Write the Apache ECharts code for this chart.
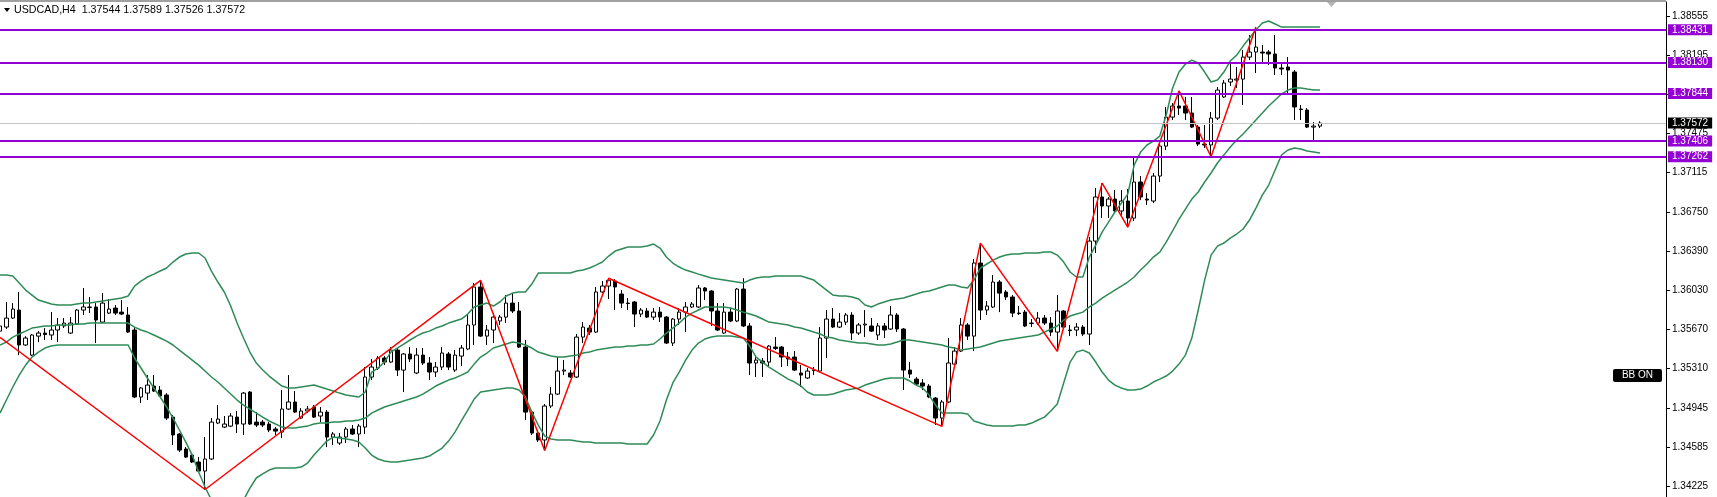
<!DOCTYPE html>
<html><head><meta charset="utf-8">
<script src="https://cdn.jsdelivr.net/npm/echarts@6/dist/echarts.min.js"></script>
<style>html,body{margin:0;padding:0;background:#fff;}#c{width:1717px;height:497px;}</style>
</head><body><div id="c"></div>
<script>
const symbolName = 'USDCAD,H4';
const opens = [
1.35656,1.35693,1.35776,1.35850,1.35528,1.35435,1.35610,1.35638,1.35620,1.35666,
1.35703,1.35638,1.35721,1.35850,1.35873,1.35878,1.35739,1.35822,1.35868,1.35831,
1.35804,1.35666,1.35049,1.35085,1.35150,1.35113,1.35067,1.34864,1.34708,1.34570,
1.34514,1.34450,1.34367,1.34478,1.34809,1.34772,1.34781,1.34864,1.34800,1.35095,
1.34818,1.34818,1.34800,1.34754,1.34726,1.34938,1.35003,1.34855,1.34920,1.34957,
1.34874,1.34910,1.34680,1.34625,1.34680,1.34754,1.34708,1.34772,1.35233,1.35316,
1.35408,1.35371,1.35481,1.35297,1.35445,1.35270,1.35435,1.35362,1.35279,1.35325,
1.35445,1.35297,1.35426,1.35491,1.35712,1.36062,1.35610,1.35666,1.35749,1.35785,
1.35914,1.35841,1.35509,1.34910,1.34717,1.34653,1.34966,1.35076,1.35288,1.35270,
1.35233,1.35601,1.35684,1.35647,1.36016,1.36071,1.36117,1.35997,1.35914,1.35924,
1.35813,1.35841,1.35785,1.35831,1.35785,1.35546,1.35767,1.35831,1.35878,1.35878,
1.36053,1.36025,1.35841,1.35638,1.35831,1.35749,1.36043,1.35703,1.35362,1.35380,
1.35371,1.35509,1.35509,1.35417,1.35417,1.35270,1.35224,1.35292,1.35288,1.35592,
1.35767,1.35693,1.35739,1.35804,1.35638,1.35712,1.35703,1.35620,1.35703,1.35675,
1.35804,1.35675,1.35297,1.35214,1.35178,1.35150,1.35039,1.34855,1.35003,1.35352,
1.35472,1.35712,1.35610,1.36283,1.35850,1.35878,1.36108,1.36016,1.35970,1.35822,
1.35831,1.35730,1.35730,1.35776,1.35730,1.35647,1.35841,1.35666,1.35666,1.35693,
1.35629,1.36485,1.36891,1.36808,1.36872,1.36762,1.36854,1.36697,1.37029,1.36872,
1.36854,1.37084,1.37360,1.37627,1.37729,1.37729,1.37664,1.37535,1.37379,1.37370,
1.37618,1.37812,1.37950,1.37968,1.37977,1.38180,1.38226,1.38226,1.38226,1.38208,
1.38079,1.38088,1.38042,1.37701,1.37692,1.37535,1.37544];
const highs = [
1.35739,1.35924,1.35914,1.36016,1.35610,1.35629,1.35656,1.35684,1.35831,1.35776,
1.35776,1.35785,1.35859,1.36053,1.35970,1.35914,1.36006,1.35951,1.35896,1.35942,
1.35878,1.35693,1.35141,1.35251,1.35251,1.35150,1.35085,1.34883,1.34717,1.34588,
1.34533,1.34496,1.34680,1.34855,1.34975,1.34874,1.34901,1.34920,1.35095,1.35104,
1.34910,1.34837,1.34818,1.34772,1.35113,1.35251,1.35104,1.34947,1.34966,1.34975,
1.34957,1.34929,1.34726,1.34717,1.34772,1.34791,1.34800,1.35325,1.35399,1.35426,
1.35426,1.35509,1.35500,1.35454,1.35509,1.35500,1.35500,1.35417,1.35371,1.35509,
1.35463,1.35481,1.35528,1.35804,1.36099,1.36124,1.35712,1.35822,1.35804,1.35988,
1.36006,1.35924,1.35574,1.34929,1.34745,1.34984,1.35141,1.35417,1.35389,1.35297,
1.35629,1.35739,1.35712,1.36062,1.36117,1.36143,1.36134,1.36034,1.35960,1.35933,
1.35868,1.35868,1.35868,1.35878,1.35795,1.35776,1.35868,1.35924,1.35924,1.36080,
1.36062,1.36034,1.35914,1.35914,1.35868,1.36053,1.36143,1.35730,1.35435,1.35408,
1.35528,1.35601,1.35518,1.35463,1.35472,1.35343,1.35316,1.35325,1.35693,1.35850,
1.35868,1.35822,1.35822,1.35831,1.35730,1.35850,1.35776,1.35730,1.35730,1.35887,
1.35822,1.35684,1.35371,1.35233,1.35214,1.35168,1.35049,1.35021,1.35592,1.35509,
1.35776,1.35730,1.36320,1.36466,1.35933,1.36172,1.36126,1.36034,1.35988,1.35887,
1.35850,1.35767,1.35831,1.35804,1.35785,1.35988,1.35850,1.35712,1.35730,1.35712,
1.36522,1.36974,1.37019,1.36891,1.36955,1.36955,1.36964,1.37259,1.37084,1.36927,
1.37112,1.37416,1.37720,1.37756,1.37868,1.37812,1.37812,1.37554,1.37554,1.37674,
1.37904,1.37968,1.38130,1.38088,1.38245,1.38383,1.38457,1.38291,1.38245,1.38383,
1.38134,1.38180,1.38060,1.37738,1.37710,1.37581,1.37589];
const lows = [
1.35620,1.35675,1.35767,1.35435,1.35518,1.35426,1.35555,1.35574,1.35574,1.35555,
1.35684,1.35629,1.35712,1.35804,1.35822,1.35546,1.35730,1.35813,1.35804,1.35804,
1.35638,1.35039,1.34993,1.35021,1.35095,1.35049,1.34837,1.34607,1.34542,1.34487,
1.34441,1.34358,1.34197,1.34468,1.34800,1.34763,1.34772,1.34717,1.34699,1.34791,
1.34772,1.34772,1.34726,1.34699,1.34671,1.34929,1.34901,1.34846,1.34901,1.34855,
1.34818,1.34588,1.34607,1.34607,1.34625,1.34699,1.34588,1.34708,1.35205,1.35297,
1.35343,1.35362,1.35242,1.35095,1.35371,1.35260,1.35343,1.35205,1.35233,1.35297,
1.35297,1.35279,1.35334,1.35481,1.35528,1.35601,1.35528,1.35546,1.35712,1.35730,
1.35822,1.35500,1.34837,1.34699,1.34634,1.34557,1.34947,1.35067,1.35251,1.35224,
1.35224,1.35546,1.35620,1.35638,1.36006,1.35951,1.35850,1.35868,1.35850,1.35693,
1.35785,1.35776,1.35758,1.35739,1.35537,1.35518,1.35712,1.35647,1.35868,1.35868,
1.35942,1.35703,1.35656,1.35629,1.35739,1.35739,1.35693,1.35251,1.35233,1.35233,
1.35334,1.35481,1.35325,1.35334,1.35288,1.35141,1.35214,1.35251,1.35279,1.35408,
1.35684,1.35684,1.35712,1.35574,1.35620,1.35601,1.35647,1.35574,1.35592,1.35666,
1.35647,1.35113,1.35224,1.35150,1.35113,1.35039,1.34791,1.34778,1.34993,1.35343,
1.35463,1.35574,1.35472,1.35758,1.35804,1.35868,1.35831,1.35942,1.35785,1.35804,
1.35693,1.35693,1.35712,1.35712,1.35610,1.35470,1.35675,1.35610,1.35610,1.35610,
1.35528,1.36375,1.36697,1.36697,1.36753,1.36725,1.36613,1.36670,1.36863,1.36817,
1.36835,1.37029,1.37324,1.37600,1.37646,1.37600,1.37526,1.37360,1.37342,1.37262,
1.37600,1.37802,1.37913,1.37895,1.37738,1.38152,1.38033,1.38134,1.38106,1.38014,
1.38014,1.37830,1.37600,1.37600,1.37526,1.37406,1.37526];
const closes = [
1.35703,1.35776,1.35859,1.35528,1.35592,1.35620,1.35638,1.35624,1.35666,1.35712,
1.35730,1.35730,1.35850,1.35878,1.35878,1.35758,1.35914,1.35859,1.35822,1.35813,
1.35647,1.35049,1.35132,1.35159,1.35104,1.35058,1.34855,1.34699,1.34560,1.34496,
1.34450,1.34367,1.34478,1.34818,1.34846,1.34800,1.34874,1.34800,1.35085,1.34800,
1.34791,1.34791,1.34745,1.34735,1.34938,1.35003,1.34910,1.34920,1.34938,1.34864,
1.34910,1.34680,1.34708,1.34680,1.34754,1.34708,1.34781,1.35233,1.35325,1.35408,
1.35371,1.35481,1.35297,1.35445,1.35399,1.35435,1.35362,1.35279,1.35325,1.35454,
1.35325,1.35435,1.35500,1.35712,1.36062,1.35610,1.35666,1.35785,1.35785,1.35914,
1.35841,1.35509,1.34910,1.34717,1.34653,1.34966,1.35076,1.35288,1.35297,1.35233,
1.35601,1.35693,1.35647,1.36016,1.36071,1.36124,1.36062,1.35914,1.35910,1.35813,
1.35850,1.35785,1.35831,1.35785,1.35546,1.35767,1.35831,1.35878,1.35905,1.36053,
1.36025,1.35841,1.35666,1.35831,1.35749,1.36043,1.35703,1.35362,1.35389,1.35362,
1.35518,1.35495,1.35417,1.35399,1.35297,1.35251,1.35288,1.35297,1.35592,1.35767,
1.35693,1.35739,1.35804,1.35638,1.35712,1.35721,1.35656,1.35703,1.35666,1.35804,
1.35675,1.35297,1.35260,1.35168,1.35150,1.35049,1.34855,1.35003,1.35362,1.35472,
1.35712,1.35610,1.36283,1.35850,1.35887,1.36108,1.36006,1.35970,1.35822,1.35817,
1.35703,1.35726,1.35776,1.35730,1.35647,1.35841,1.35693,1.35661,1.35693,1.35629,
1.36485,1.36891,1.36808,1.36872,1.36762,1.36854,1.36697,1.37029,1.36891,1.36863,
1.37084,1.37360,1.37627,1.37729,1.37710,1.37664,1.37535,1.37379,1.37370,1.37618,
1.37876,1.37941,1.37977,1.37977,1.38180,1.38226,1.38272,1.38217,1.38208,1.38079,
1.38070,1.38060,1.37720,1.37697,1.37535,1.37544,1.37572];
const bbUpper = [
1.36172,1.36172,1.36163,1.36099,1.36034,1.35988,1.35942,1.35924,1.35905,1.35896,
1.35896,1.35896,1.35905,1.35914,1.35914,1.35924,1.35933,1.35942,1.35951,1.35960,
1.35979,1.36071,1.36117,1.36154,1.36181,1.36209,1.36237,1.36292,1.36338,1.36366,
1.36375,1.36375,1.36329,1.36209,1.36108,1.36016,1.35887,1.35730,1.35592,1.35463,
1.35362,1.35297,1.35242,1.35196,1.35150,1.35132,1.35132,1.35141,1.35150,1.35159,
1.35141,1.35122,1.35104,1.35085,1.35067,1.35058,1.35049,1.35095,1.35279,1.35316,
1.35371,1.35463,1.35500,1.35537,1.35574,1.35610,1.35638,1.35656,1.35684,1.35703,
1.35730,1.35749,1.35767,1.35813,1.35878,1.35896,1.35914,1.35887,1.35924,1.35979,
1.36006,1.36016,1.36016,1.36089,1.36191,1.36191,1.36191,1.36191,1.36191,1.36191,
1.36209,1.36218,1.36237,1.36264,1.36292,1.36347,1.36393,1.36412,1.36430,1.36430,
1.36430,1.36439,1.36458,1.36421,1.36338,1.36283,1.36246,1.36218,1.36200,1.36181,
1.36163,1.36145,1.36135,1.36126,1.36117,1.36108,1.36099,1.36126,1.36145,1.36154,
1.36154,1.36163,1.36163,1.36163,1.36163,1.36163,1.36145,1.36126,1.36080,1.36034,
1.35988,1.35979,1.35979,1.35970,1.35951,1.35896,1.35878,1.35905,1.35924,1.35942,
1.35951,1.35960,1.35979,1.35997,1.36016,1.36025,1.36043,1.36062,1.36080,1.36080,
1.36062,1.36053,1.36126,1.36237,1.36274,1.36310,1.36338,1.36356,1.36366,1.36366,
1.36375,1.36375,1.36375,1.36384,1.36384,1.36356,1.36292,1.36200,1.36154,1.36154,
1.36338,1.36448,1.36568,1.36660,1.36753,1.36835,1.36918,1.37185,1.37305,1.37370,
1.37406,1.37452,1.37646,1.37895,1.38042,1.38116,1.38152,1.38125,1.38042,1.37950,
1.37968,1.38042,1.38143,1.38198,1.38281,1.38355,1.38429,1.38493,1.38512,1.38484,
1.38456,1.38456,1.38456,1.38456,1.38456,1.38456,1.38456];
const bbMiddle = [
1.35528,1.35555,1.35601,1.35629,1.35656,1.35684,1.35693,1.35703,1.35703,1.35712,
1.35712,1.35712,1.35721,1.35721,1.35730,1.35730,1.35730,1.35730,1.35730,1.35730,
1.35730,1.35693,1.35666,1.35647,1.35620,1.35592,1.35564,1.35528,1.35481,1.35435,
1.35389,1.35343,1.35288,1.35233,1.35187,1.35132,1.35076,1.35021,1.34975,1.34938,
1.34901,1.34864,1.34828,1.34800,1.34772,1.34763,1.34763,1.34772,1.34781,1.34800,
1.34809,1.34809,1.34818,1.34818,1.34828,1.34828,1.34837,1.34855,1.34901,1.34929,
1.34957,1.34975,1.34993,1.35012,1.35030,1.35049,1.35076,1.35113,1.35150,1.35178,
1.35205,1.35224,1.35251,1.35279,1.35352,1.35417,1.35454,1.35500,1.35518,1.35537,
1.35555,1.35546,1.35528,1.35500,1.35463,1.35445,1.35426,1.35417,1.35417,1.35426,
1.35435,1.35454,1.35463,1.35481,1.35491,1.35500,1.35509,1.35509,1.35518,1.35518,
1.35528,1.35528,1.35537,1.35583,1.35638,1.35684,1.35730,1.35785,1.35822,1.35850,
1.35878,1.35878,1.35878,1.35878,1.35868,1.35850,1.35831,1.35813,1.35795,1.35767,
1.35739,1.35730,1.35721,1.35712,1.35693,1.35684,1.35666,1.35647,1.35629,1.35601,
1.35592,1.35574,1.35564,1.35555,1.35546,1.35546,1.35537,1.35528,1.35528,1.35537,
1.35555,1.35574,1.35574,1.35564,1.35555,1.35546,1.35537,1.35528,1.35509,1.35500,
1.35481,1.35491,1.35500,1.35509,1.35528,1.35546,1.35564,1.35574,1.35583,1.35592,
1.35601,1.35610,1.35620,1.35647,1.35675,1.35703,1.35758,1.35795,1.35813,1.35831,
1.35878,1.35914,1.35960,1.35997,1.36034,1.36071,1.36108,1.36154,1.36218,1.36274,
1.36338,1.36384,1.36476,1.36578,1.36688,1.36780,1.36872,1.36937,1.37029,1.37112,
1.37204,1.37277,1.37351,1.37416,1.37471,1.37535,1.37600,1.37664,1.37729,1.37784,
1.37839,1.37876,1.37895,1.37895,1.37885,1.37876,1.37876];
const bbLower = [
1.34901,1.35021,1.35141,1.35251,1.35343,1.35417,1.35463,1.35500,1.35518,1.35528,
1.35528,1.35528,1.35528,1.35528,1.35528,1.35528,1.35528,1.35528,1.35528,1.35528,
1.35528,1.35408,1.35316,1.35224,1.35132,1.35049,1.34957,1.34855,1.34745,1.34634,
1.34514,1.34358,1.34220,1.34100,1.34026,1.33990,1.33990,1.34026,1.34100,1.34210,
1.34303,1.34340,1.34376,1.34395,1.34395,1.34395,1.34395,1.34404,1.34441,1.34514,
1.34579,1.34643,1.34680,1.34671,1.34662,1.34653,1.34634,1.34579,1.34514,1.34478,
1.34459,1.34450,1.34450,1.34459,1.34468,1.34478,1.34487,1.34505,1.34542,1.34579,
1.34643,1.34726,1.34828,1.34929,1.35030,1.35095,1.35104,1.35113,1.35122,1.35132,
1.35132,1.35113,1.35049,1.34910,1.34791,1.34690,1.34662,1.34653,1.34653,1.34653,
1.34643,1.34634,1.34634,1.34625,1.34625,1.34625,1.34625,1.34625,1.34616,1.34616,
1.34616,1.34616,1.34699,1.34828,1.35021,1.35178,1.35279,1.35389,1.35481,1.35546,
1.35583,1.35601,1.35610,1.35610,1.35610,1.35601,1.35592,1.35518,1.35417,1.35371,
1.35325,1.35288,1.35251,1.35214,1.35187,1.35150,1.35095,1.35067,1.35067,1.35067,
1.35076,1.35095,1.35113,1.35122,1.35132,1.35159,1.35178,1.35196,1.35214,1.35224,
1.35224,1.35224,1.35196,1.35159,1.35132,1.35067,1.34975,1.34901,1.34901,1.34901,
1.34901,1.34892,1.34828,1.34809,1.34791,1.34781,1.34781,1.34781,1.34781,1.34791,
1.34791,1.34809,1.34837,1.34864,1.34920,1.34984,1.35178,1.35371,1.35463,1.35481,
1.35454,1.35371,1.35279,1.35205,1.35159,1.35132,1.35113,1.35113,1.35122,1.35150,
1.35187,1.35214,1.35242,1.35288,1.35352,1.35435,1.35592,1.35850,1.36126,1.36356,
1.36439,1.36467,1.36513,1.36550,1.36596,1.36679,1.36789,1.36909,1.37001,1.37139,
1.37278,1.37324,1.37342,1.37333,1.37314,1.37305,1.37296];
const zigzagIndex = [0, 32, 75, 85, 95, 147, 153, 165, 172, 176, 184, 189, 196];
const zigzagValue = [1.35599, 1.34197, 1.36124, 1.34557, 1.36143, 1.34778, 1.36466, 1.35470, 1.37019, 1.36613, 1.37868, 1.37262, 1.38457];
const levelPrices = [1.38431, 1.38130, 1.37844, 1.37406, 1.37262];
const currentPrice = 1.37572;
const yTickValues = [1.38555, 1.38195, 1.37835, 1.37475, 1.37115, 1.36750, 1.36390, 1.36030, 1.35670, 1.35310, 1.34945, 1.34585, 1.34225];
const priceMin = 1.34128, priceMax = 1.38687;
const slotCount = 261;

const N = opens.length;
const categories = Array.from({length: slotCount}, (_, i) => String(i));
const candleData = opens.map((o, i) => [o, closes[i], lows[i], highs[i]]);
const zigzagData = new Array(N).fill(null);
zigzagIndex.forEach((k, j) => { zigzagData[k] = zigzagValue[j]; });
const fmt = v => Number(v).toFixed(5);
const FONT = 'Liberation Sans';
const titleText = symbolName + '  ' + [opens[N-1], highs[N-1], lows[N-1], closes[N-1]].map(fmt).join(' ');

const chart = echarts.init(document.getElementById('c'), null, {renderer: 'canvas'});
const bandStyle = {color: '#2E8B57', width: 1.5};
chart.setOption({
  animation: false,
  backgroundColor: '#ffffff',
  grid: {left: 0, right: 51, top: 2, bottom: 0},
  xAxis: {type: 'category', data: categories, boundaryGap: false, show: false},
  yAxis: {
    type: 'value', position: 'right', min: priceMin, max: priceMax, scale: true,
    axisLine: {show: true, lineStyle: {color: '#000', width: 1}},
    axisTick: {show: true, inside: false, length: 4, lineStyle: {color: '#000'}, customValues: yTickValues},
    axisLabel: {show: true, customValues: yTickValues, formatter: fmt, color: '#000', fontSize: 10, fontFamily: FONT, margin: 6},
    splitLine: {show: false}
  },
  series: [
    {type: 'line', data: [], z: 1, silent: true,
     markLine: {symbol: ['none', 'none'], silent: true, animation: false, precision: 5,
       lineStyle: {color: '#c4c4c4', width: 1, type: 'solid'},
       label: {position: 'end', distance: 2, color: '#fff', backgroundColor: '#000', fontSize: 10, fontFamily: FONT, padding: [1, 4, 0, 4], formatter: p => fmt(p.value)},
       emphasis: {disabled: true},
       data: [{yAxis: currentPrice}]}},
    {type: 'candlestick', data: candleData, barWidth: 4, z: 2, silent: true,
     itemStyle: {color: '#ffffff', color0: '#000000', borderColor: '#000000', borderColor0: '#000000', borderWidth: 1}},
    {type: 'line', data: bbUpper, symbol: 'none', lineStyle: bandStyle, z: 3, silent: true},
    {type: 'line', data: bbMiddle, symbol: 'none', lineStyle: bandStyle, z: 3, silent: true},
    {type: 'line', data: bbLower, symbol: 'none', lineStyle: bandStyle, z: 3, silent: true},
    {type: 'line', data: zigzagData, connectNulls: true, symbol: 'none', lineStyle: {color: '#ff0000', width: 1.5}, z: 4, silent: true},
    {type: 'line', data: [], z: 5, silent: true,
     markLine: {symbol: ['none', 'none'], silent: true, animation: false, precision: 5,
       lineStyle: {color: '#9400D3', width: 2, type: 'solid'},
       label: {position: 'end', distance: 2, color: '#fff', backgroundColor: '#9400D3', fontSize: 10, fontFamily: FONT, padding: [1, 4, 0, 4], formatter: p => fmt(p.value)},
       emphasis: {disabled: true},
       data: levelPrices.map(v => ({yAxis: v}))}}
  ],
  graphic: [
    {type: 'rect', shape: {x: 0, y: 0, width: 1666, height: 2}, style: {fill: '#a0a0a0'}, silent: true},
    {type: 'polygon', shape: {points: [[4, 8], [10, 8], [7, 12]]}, style: {fill: '#000'}, silent: true},
    {type: 'text', x: 14, y: 10, style: {text: titleText, fill: '#000', font: '10.7px "' + FONT + '"', textVerticalAlign: 'middle'}, silent: true},
    {type: 'polygon', shape: {points: [[1327, 2], [1336, 2], [1331.5, 7]]}, style: {fill: '#b4b4b4'}, silent: true},
    {type: 'rect', shape: {x: 1613, y: 369, width: 49, height: 13, r: 2}, style: {fill: '#000'}, silent: true},
    {type: 'text', x: 1637.5, y: 375.5, style: {text: 'BB ON', fill: '#fff', font: '10px "' + FONT + '"', textAlign: 'center', textVerticalAlign: 'middle'}, silent: true}
  ]
});
</script></body></html>
